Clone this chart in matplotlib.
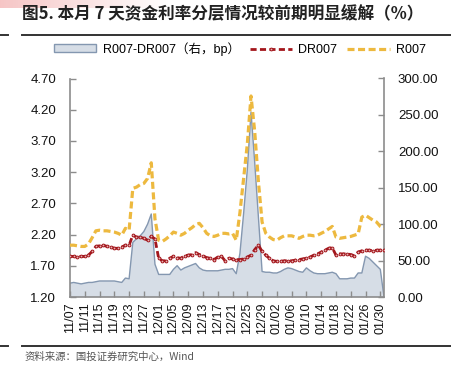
import matplotlib
matplotlib.use('Agg')
import matplotlib.pyplot as plt
import matplotlib.dates as mdates
from matplotlib.lines import Line2D
from matplotlib.patches import Patch
from matplotlib.ticker import FixedLocator, FormatStrFormatter
import numpy as np
import pandas as pd

plt.rcParams['font.family'] = ['Liberation Sans', 'Noto Sans CJK SC', 'DejaVu Sans']

# ---------------- data ----------------
dates = pd.date_range('2023-11-07', '2024-01-31', freq='D')
tick_dates = pd.date_range('2023-11-07', '2024-01-30', freq='4D')
left_ticks = [1.20, 1.70, 2.20, 2.70, 3.20, 3.70, 4.20, 4.70]
right_ticks = [0, 50, 100, 150, 200, 250, 300]

r007 = [2.03, 2.03, 2.02, 2.01, 2.01, 2.05, 2.15, 2.26, 2.27, 2.26,
        2.26, 2.25, 2.24, 2.22, 2.19, 2.30, 2.27, 2.94, 2.96, 3.00,
        3.02, 3.10, 3.35, 2.45, 2.11, 2.09, 2.13, 2.18, 2.24, 2.22,
        2.19, 2.22, 2.27, 2.31, 2.36, 2.38, 2.31, 2.22, 2.18, 2.17,
        2.19, 2.22, 2.22, 2.21, 2.22, 2.11, 2.55, 3.10, 3.65, 4.42,
        3.85, 3.05, 2.40, 2.22, 2.16, 2.12, 2.11, 2.15, 2.18, 2.18,
        2.18, 2.16, 2.14, 2.17, 2.19, 2.19, 2.18, 2.19, 2.22, 2.25,
        2.29, 2.33, 2.16, 2.14, 2.15, 2.16, 2.17, 2.19, 2.21, 2.48,
        2.51, 2.47, 2.43, 2.40, 2.33, 2.30]

dr007 = [1.85, 1.85, 1.84, 1.85, 1.85, 1.87, 1.93, 2.01, 2.02, 2.03,
         2.01, 2.00, 1.98, 1.98, 2.00, 2.03, 2.03, 2.19, 2.16, 2.16,
         2.14, 2.11, 2.17, 2.13, 1.82, 1.78, 1.78, 1.82, 1.85, 1.83,
         1.82, 1.86, 1.87, 1.88, 1.91, 1.88, 1.86, 1.83, 1.82, 1.80,
         1.84, 1.85, 1.78, 1.82, 1.81, 1.80, 1.80, 1.81, 1.84, 1.87,
         1.96, 2.03, 1.93, 1.87, 1.82, 1.78, 1.77, 1.77, 1.78, 1.78,
         1.78, 1.79, 1.80, 1.81, 1.82, 1.84, 1.87, 1.89, 1.92, 1.95,
         1.98, 1.99, 1.87, 1.89, 1.89, 1.89, 1.88, 1.86, 1.92, 1.94,
         1.95, 1.95, 1.94, 1.95, 1.95, 1.95]

spread = [19, 20, 19, 18, 19, 20, 20, 21, 22, 22,
          22, 22, 22, 21, 20, 26, 25, 75, 80, 84,
          90, 100, 114, 45, 31, 31, 31, 31, 38, 43,
          37, 40, 42, 44, 46, 40, 37, 36, 36, 36,
          36, 37, 38, 38, 39, 32, 60, 115, 175, 254,
          185, 110, 35, 34, 34, 33, 33, 35, 38, 40,
          39, 37, 35, 34, 40, 36, 33, 32, 32, 32,
          33, 34, 32, 25, 25, 25, 26, 26, 33, 33,
          56, 53, 48, 43, 38, 0]

title = '图5. 本月 7 天资金利率分层情况较前期明显缓解（%）'
source = '资料来源：国投证券研究中心，Wind'
lbl_spread = 'R007-DR007（右，bp）'
lbl_dr = 'DR007'
lbl_r = 'R007'

# ---------------- style ----------------
C_GOLD = '#EDB93F'
C_RED = '#A3161C'
C_AREA = '#D6DDE6'
C_AREA_EDGE = '#8497B0'
C_SPINE = '#8C8C8C'

W, H = 451, 367
fig = plt.figure(figsize=(W / 100, H / 100), dpi=100)

# decorative gradient at top-left
gax = fig.add_axes([0, 1 - 8 / H, 170 / W, 8 / H])
grad = np.ones((1, 256, 4))
grad[0, :, 0] = 0.93
grad[0, :, 1] = 0.55
grad[0, :, 2] = 0.55
grad[0, :, 3] = np.linspace(0.5, 0.0, 256)
gax.imshow(grad, aspect='auto', extent=[0, 1, 0, 1])
gax.axis('off')

# title + rules
fig.text(22 / W, 1 - 14 / H, title, fontsize=12, fontweight='bold',
         family=['Noto Sans CJK SC', 'DejaVu Sans'], color='#222222',
         ha='left', va='center')
fig.add_artist(Line2D([22 / W, 1], [1 - 35 / H] * 2, color='#333333', lw=1.4))
fig.add_artist(Line2D([0, 8 / W], [1 - 35 / H] * 2, color='#333333', lw=1.4))
fig.add_artist(Line2D([22 / W, 1], [1 - 346 / H] * 2, color='#333333', lw=1.4))
fig.add_artist(Line2D([0, 8 / W], [1 - 346 / H] * 2, color='#333333', lw=1.4))
fig.text(25 / W, 1 - 357 / H, source, fontsize=7.5,
         family=['Noto Sans CJK SC', 'DejaVu Sans'], color='#555555',
         ha='left', va='center')

# axes
axr = fig.add_axes([70 / W, 1 - 297 / H, (384 - 70) / W, (297 - 78.5) / H])
axl = axr.twinx()
axr.yaxis.tick_right()
axl.yaxis.tick_left()
axl.yaxis.set_label_position('left')

x = mdates.date2num(dates)
axr.fill_between(x, 0, spread, facecolor=C_AREA, edgecolor='none', zorder=1)
axr.plot(x, spread, color=C_AREA_EDGE, lw=1.0, zorder=2)

axl.plot(x, dr007, color=C_RED, lw=2.0, linestyle=(0, (2.2, 1.2)),
         marker='o', markersize=2.0, markerfacecolor='#E8B4B4',
         markeredgecolor=C_RED, markeredgewidth=0.7, zorder=3)
axl.plot(x, r007, color=C_GOLD, lw=2.3, linestyle=(0, (2.2, 1.1)), zorder=4)

axr.set_xlim(x[0], x[-1])
axr.set_ylim(right_ticks[0], right_ticks[-1])
axl.set_ylim(left_ticks[0], left_ticks[-1])
axr.yaxis.set_major_locator(FixedLocator(right_ticks))
axr.yaxis.set_major_formatter(FormatStrFormatter('%.2f'))
axl.yaxis.set_major_locator(FixedLocator(left_ticks))
axl.yaxis.set_major_formatter(FormatStrFormatter('%.2f'))
axr.xaxis.set_major_locator(FixedLocator(mdates.date2num(tick_dates)))
axr.xaxis.set_major_formatter(mdates.DateFormatter('%m/%d'))

for ax in (axr, axl):
    for s in ax.spines.values():
        s.set_visible(False)
axr.spines['right'].set_visible(True)
axr.spines['bottom'].set_visible(True)
axl.spines['left'].set_visible(True)
for ax, sp in ((axr, 'right'), (axr, 'bottom'), (axl, 'left')):
    ax.spines[sp].set_color(C_SPINE)
    ax.spines[sp].set_linewidth(1.2)

axr.tick_params(axis='x', direction='in', length=4, color=C_SPINE, width=1,
                labelsize=9, labelrotation=90, pad=4, labelcolor='#111111')
axr.tick_params(axis='y', direction='in', length=4, color=C_SPINE, width=1,
                labelsize=9.5, pad=10, labelcolor='#111111')
axl.tick_params(axis='y', direction='in', length=4, color=C_SPINE, width=1,
                labelsize=9.5, pad=10, labelcolor='#111111')

handles = [
    Patch(facecolor=C_AREA, edgecolor=C_AREA_EDGE, linewidth=1.0),
    Line2D([], [], color=C_RED, lw=2.0, linestyle=(0, (2.2, 1.2)), marker='o',
           markersize=2.0, markerfacecolor='#E8B4B4', markeredgecolor=C_RED,
           markeredgewidth=0.7),
    Line2D([], [], color=C_GOLD, lw=2.3, linestyle=(0, (2.2, 1.1))),
]
fig.legend(handles, [lbl_spread, lbl_dr, lbl_r], loc='center',
           bbox_to_anchor=(240 / W, 1 - 49 / H), ncol=3, frameon=False,
           fontsize=9, handlelength=3.4, handleheight=0.6, handletextpad=0.5,
           columnspacing=0.8, borderpad=0)

fig.savefig('out.png', dpi=100)
